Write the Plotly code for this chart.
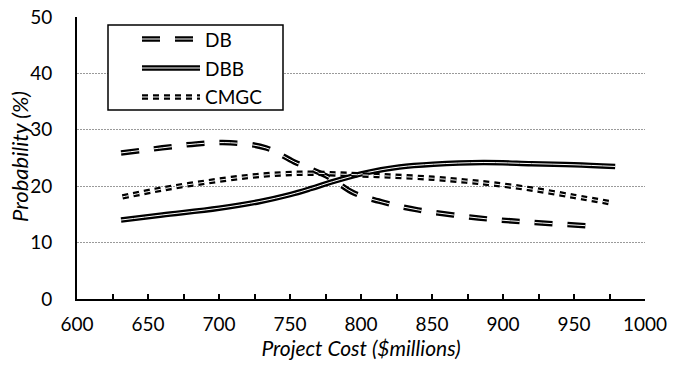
import plotly.graph_objects as go

# ---- data ----
db_cost = [631, 660, 684, 708, 733, 753, 778, 795, 818, 840, 865, 889, 920, 965]
db_prob = [25.9, 26.8, 27.5, 27.7, 26.8, 24.3, 21.5, 18.8, 17.0, 15.8, 14.9, 14.2, 13.6, 12.9]

dbb_cost = [631, 660, 700, 729, 750, 765, 780, 804, 827, 851, 886, 920, 950, 979]
dbb_prob = [14.0, 14.9, 16.1, 17.3, 18.5, 19.6, 20.8, 22.4, 23.4, 23.9, 24.2, 24.0, 23.8, 23.5]

cmgc_cost = [632, 660, 690, 720, 745, 766, 790, 820, 851, 874, 893, 920, 950, 977]
cmgc_prob = [18.1, 19.5, 20.7, 21.7, 22.2, 22.3, 22.1, 21.8, 21.4, 20.9, 20.4, 19.5, 18.2, 17.0]

series_names = ["DB", "DBB", "CMGC"]
x_ticks = [600, 650, 700, 750, 800, 850, 900, 950, 1000]
y_ticks = [0, 10, 20, 30, 40, 50]

FONT = "Lato"
series = [
    ("DB", db_cost, db_prob, "18px,15px"),
    ("DBB", dbb_cost, dbb_prob, "solid"),
    ("CMGC", cmgc_cost, cmgc_prob, "6px,5px"),
]
OUT_W, IN_W = 5.5, 1.0

fig = go.Figure()
for name, xs, ys, dash in series:
    fig.add_trace(go.Scatter(x=xs, y=ys, mode="lines", name=name, showlegend=False,
                             line=dict(color="black", width=OUT_W, dash=dash, shape="spline", smoothing=1.0)))
    fig.add_trace(go.Scatter(x=xs, y=ys, mode="lines", name=name + " ", showlegend=False,
                             hoverinfo="skip",
                             line=dict(color="white", width=IN_W, dash=dash, shape="spline", smoothing=1.0)))

FW, FH = 676, 365
L, R, T, B = 77, 645, 17, 299
W, H = R - L, B - T
px = lambda v: (v - L) / W
py = lambda v: (B - v) / H

shapes = [dict(type="rect", xref="paper", yref="paper",
               x0=px(108), x1=px(283), y0=py(110), y1=py(25),
               line=dict(color="black", width=1.5), fillcolor="white", layer="above")]
annotations = []
for (name, xs, ys, dash), yy in zip(series, [39, 68, 97]):
    for col, wd in (("black", OUT_W), ("white", IN_W)):
        shapes.append(dict(type="line", xref="paper", yref="paper",
                           x0=px(142), x1=px(200), y0=py(yy), y1=py(yy),
                           line=dict(color=col, width=wd, dash=dash), layer="above"))
    annotations.append(dict(xref="paper", yref="paper", x=px(203), y=py(yy),
                            text=name, showarrow=False, xanchor="left", yanchor="middle",
                            font=dict(family=FONT, size=19, color="black")))

# y-axis title placed as a rotated annotation
annotations.append(dict(xref="paper", yref="paper", x=px(19), y=py(157),
                        text="<i>Probability (%)</i>", showarrow=False, textangle=-90,
                        xanchor="center", yanchor="middle",
                        font=dict(family=FONT, size=22, color="black")))

fig.update_layout(
    width=FW, height=FH,
    margin=dict(l=L, r=FW - R, t=T, b=FH - B),
    paper_bgcolor="white", plot_bgcolor="white",
    font=dict(family=FONT, size=19, color="black"),
    shapes=shapes, annotations=annotations,
    showlegend=False,
    xaxis=dict(range=[600, 1000], tickvals=x_ticks, ticktext=[str(v) for v in x_ticks],
               automargin=False, ticklabeloverflow="allow",
               showgrid=False, zeroline=False,
               showline=True, linecolor="black", linewidth=2,
               ticks="inside", ticklen=5, tickwidth=1.5, tickcolor="black",
               minor=dict(dtick=25, tick0=600, ticks="inside", ticklen=5, tickwidth=1.5,
                          tickcolor="black", showgrid=False),
               ticklabelstandoff=7,
               tickfont=dict(family=FONT, size=19),
               title=dict(text="<i>Project Cost ($millions)</i>", standoff=5,
                          font=dict(family=FONT, size=21))),
    yaxis=dict(range=[0, 50], tickvals=y_ticks, showgrid=True, gridcolor="#9a9a9a",
               automargin=False, ticklabeloverflow="allow",
               griddash="2px,1px", gridwidth=1, zeroline=False,
               showline=True, linecolor="black", linewidth=2,
               ticks="", ticklabelstandoff=19,
               tickfont=dict(family=FONT, size=19)),
)

fig.write_html("out.html", config={"displayModeBar": False},
               post_script="document.body.style.margin='0px';")
